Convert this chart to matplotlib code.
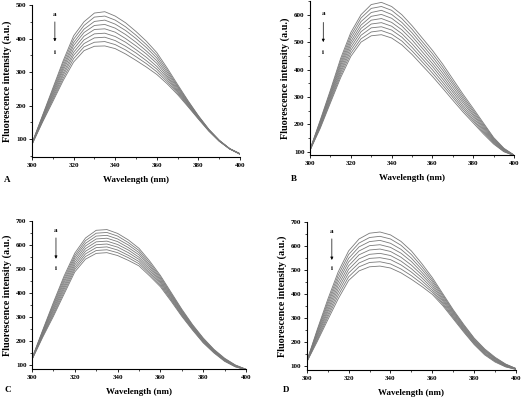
import numpy as np
import matplotlib
matplotlib.use("Agg")
import matplotlib.pyplot as plt
from matplotlib.ticker import MultipleLocator

plt.rcParams['font.family'] = ['Liberation Serif', 'DejaVu Serif']
plt.rcParams['font.weight'] = 'bold'

# wavelengths (nm)
wavelength = [300, 305, 310, 315, 320, 325, 330, 335, 340, 345, 350,
              355, 360, 365, 370, 375, 380, 385, 390, 395, 400]

# rows = wavelength, columns = curves a..i
spec_A = [
    [88, 88, 87, 87, 86, 86, 85, 85, 84],
    [170, 168, 165, 162, 160, 158, 155, 152, 150],
    [252, 247, 242, 237, 232, 227, 222, 217, 212],
    [334, 327, 319, 312, 305, 297, 290, 282, 275],
    [408, 398, 388, 379, 369, 359, 350, 340, 330],
    [450, 439, 428, 418, 407, 396, 385, 375, 364],
    [476, 464, 451, 439, 427, 414, 402, 389, 377],
    [480, 467, 455, 442, 429, 416, 404, 391, 378],
    [467, 455, 443, 431, 419, 406, 394, 382, 370],
    [447, 435, 424, 412, 400, 389, 377, 366, 354],
    [421, 410, 400, 389, 378, 367, 357, 346, 335],
    [392, 382, 373, 363, 354, 344, 334, 325, 315],
    [358, 350, 342, 334, 326, 317, 309, 301, 293],
    [312, 306, 300, 294, 288, 283, 277, 271, 265],
    [263, 259, 256, 252, 248, 244, 241, 237, 233],
    [215, 213, 210, 208, 206, 204, 201, 199, 197],
    [170, 169, 168, 166, 165, 164, 163, 161, 160],
    [130, 129, 128, 128, 127, 126, 126, 125, 124],
    [97, 97, 96, 96, 96, 95, 95, 94, 94],
    [72, 72, 72, 72, 72, 71, 71, 71, 71],
    [57, 57, 56, 56, 56, 56, 56, 55, 55],
]

spec_B = [
    [108, 108, 107, 107, 106, 106, 106, 105, 105],
    [215, 211, 208, 204, 200, 196, 192, 189, 185],
    [325, 319, 313, 307, 302, 296, 290, 284, 278],
    [440, 431, 422, 414, 405, 396, 388, 379, 370],
    [535, 524, 513, 502, 492, 481, 470, 459, 448],
    [600, 588, 575, 562, 550, 538, 525, 512, 500],
    [637, 623, 608, 594, 580, 566, 552, 537, 523],
    [645, 630, 616, 601, 586, 571, 556, 542, 527],
    [630, 616, 601, 587, 572, 558, 544, 529, 515],
    [600, 586, 572, 559, 545, 531, 518, 504, 490],
    [560, 547, 534, 521, 508, 494, 481, 468, 455],
    [515, 502, 490, 478, 465, 452, 440, 428, 415],
    [470, 458, 446, 434, 422, 411, 399, 387, 375],
    [420, 409, 398, 387, 376, 365, 354, 343, 332],
    [365, 355, 346, 336, 326, 317, 307, 298, 288],
    [310, 302, 294, 286, 278, 269, 261, 253, 245],
    [258, 251, 245, 238, 232, 225, 218, 212, 205],
    [205, 200, 195, 190, 185, 180, 175, 170, 165],
    [152, 149, 146, 143, 140, 137, 134, 131, 128],
    [113, 111, 110, 108, 106, 105, 103, 101, 100],
    [88, 88, 87, 87, 87, 87, 86, 86, 86],
]

spec_C = [
    [128, 127, 126, 126, 125, 124, 124, 123, 122],
    [245, 241, 238, 234, 230, 226, 222, 219, 215],
    [360, 353, 346, 338, 331, 324, 316, 309, 302],
    [470, 461, 451, 442, 432, 423, 414, 404, 395],
    [565, 555, 546, 536, 526, 516, 506, 497, 487],
    [628, 617, 606, 595, 584, 573, 562, 551, 540],
    [660, 648, 636, 624, 612, 600, 588, 576, 564],
    [663, 651, 639, 627, 615, 603, 591, 579, 567],
    [647, 636, 624, 613, 601, 590, 578, 567, 555],
    [620, 609, 599, 588, 578, 567, 556, 546, 535],
    [585, 576, 567, 558, 548, 539, 530, 521, 512],
    [532, 524, 516, 509, 501, 493, 485, 478, 470],
    [472, 466, 460, 454, 448, 443, 437, 431, 425],
    [402, 397, 393, 388, 384, 379, 374, 370, 365],
    [332, 328, 324, 321, 317, 313, 309, 306, 302],
    [268, 265, 262, 259, 256, 254, 251, 248, 245],
    [212, 210, 207, 204, 202, 200, 197, 194, 192],
    [165, 163, 161, 159, 158, 156, 154, 152, 150],
    [128, 126, 125, 123, 122, 120, 118, 117, 115],
    [100, 99, 98, 97, 96, 95, 94, 93, 92],
    [82, 82, 82, 81, 81, 81, 80, 80, 80],
]

spec_D = [
    [118, 118, 117, 117, 116, 116, 116, 115, 115],
    [250, 244, 238, 231, 225, 219, 212, 206, 200],
    [375, 364, 354, 343, 332, 322, 311, 301, 290],
    [490, 476, 462, 448, 434, 420, 406, 392, 378],
    [578, 563, 547, 532, 516, 501, 486, 470, 455],
    [628, 611, 595, 578, 562, 545, 528, 512, 495],
    [652, 634, 617, 600, 582, 564, 547, 530, 512],
    [657, 639, 622, 604, 586, 568, 550, 533, 515],
    [645, 628, 610, 593, 576, 559, 542, 524, 507],
    [618, 602, 585, 569, 552, 536, 520, 503, 487],
    [578, 563, 548, 534, 519, 504, 490, 475, 460],
    [525, 513, 501, 489, 478, 466, 454, 442, 430],
    [467, 458, 450, 441, 432, 423, 414, 406, 397],
    [400, 394, 388, 381, 375, 369, 362, 356, 350],
    [333, 328, 324, 319, 314, 309, 304, 300, 295],
    [272, 268, 264, 260, 256, 252, 248, 244, 240],
    [215, 212, 208, 205, 202, 198, 195, 191, 188],
    [170, 167, 164, 161, 158, 154, 151, 148, 145],
    [135, 132, 130, 128, 125, 122, 120, 118, 115],
    [107, 106, 104, 102, 101, 100, 98, 96, 95],
    [88, 88, 87, 87, 86, 86, 85, 85, 84],
]

panels = [
    # spectra, axes rect, ylim, arrow (x, y_a, y_start, y_end, y_i), letter, letter position
    (spec_A, [0.0613, 0.6075, 0.3985, 0.380], (47, 500), (311, 473, 458, 383, 359), 'A', (0.008, 0.545)),
    (spec_B, [0.5939, 0.6125, 0.3908, 0.385], (88, 650), (306.5, 603, 582, 490, 461), 'B', (0.557, 0.548)),
    (spec_C, [0.0613, 0.0768, 0.4100, 0.3715], (82, 700), (311.2, 661, 640, 530, 502), 'C', (0.008, 0.02)),
    (spec_D, [0.5876, 0.0750, 0.4010, 0.3708], (82, 700), (312, 661, 640, 529, 503), 'D', (0.541, 0.02)),
]

fig = plt.figure(figsize=(5.22, 4.0), dpi=100)

for spec, rect, ylim, arr, letter, lpos in panels:
    ax = fig.add_axes(rect)
    data = np.array(spec)
    for k in range(data.shape[1]):
        ax.plot(wavelength, data[:, k], color='#7a7a7a', lw=0.6,
                solid_joinstyle='round')
    ax.set_xlim(300, 400)
    ax.set_ylim(*ylim)
    ax.spines['top'].set_visible(False)
    ax.spines['right'].set_visible(False)
    for s in ['left', 'bottom']:
        ax.spines[s].set_linewidth(0.8)
    ax.xaxis.set_major_locator(MultipleLocator(20))
    ax.xaxis.set_minor_locator(MultipleLocator(10))
    ax.yaxis.set_major_locator(MultipleLocator(100))
    ax.yaxis.set_minor_locator(MultipleLocator(50))
    ax.tick_params(which='major', direction='out', length=2.5, width=0.6,
                   labelsize=5, pad=1.5)
    ax.tick_params(which='minor', direction='out', length=1.5, width=0.5)
    ax.set_yticks([t for t in range(100, 701, 100) if t <= ylim[1]])
    ax.set_xlabel('Wavelength (nm)', fontsize=6.5, fontweight='bold', labelpad=6)
    ax.set_ylabel('Fluorescence intensity (a.u.)', fontsize=7.3, fontweight='bold', labelpad=3)
    x0, ya, y1, y2, yi = arr
    ax.text(x0, ya, 'a', fontsize=5, ha='center', va='center')
    ax.annotate('', xy=(x0, y2), xytext=(x0, y1),
                arrowprops=dict(arrowstyle='-|>', color='black', lw=0.5,
                                mutation_scale=4))
    ax.text(x0, yi, 'i', fontsize=5, ha='center', va='center')
    fig.text(lpos[0], lpos[1], letter, fontsize=6.5, fontweight='bold')

fig.savefig('out.png', dpi=100)
